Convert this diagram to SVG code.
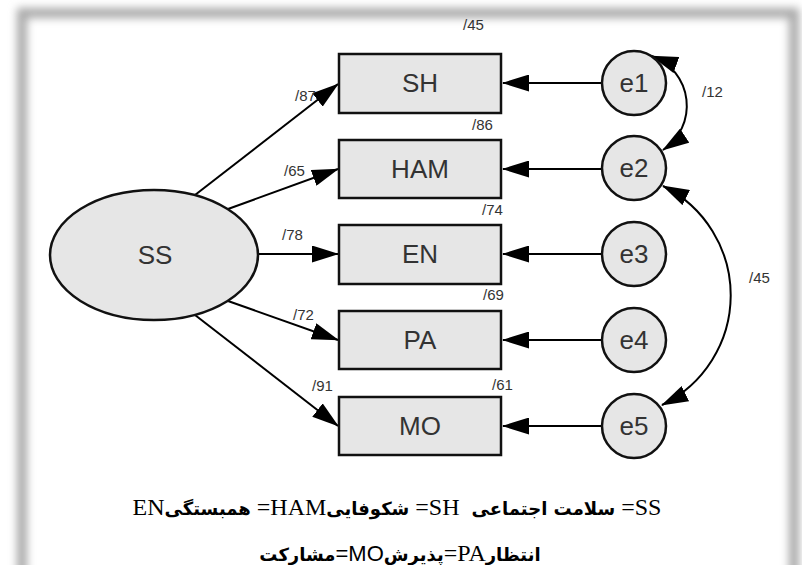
<svg xmlns="http://www.w3.org/2000/svg" width="802" height="565" viewBox="0 0 802 565">
<defs>
<filter id="blur" x="-5%" y="-5%" width="110%" height="110%"><feGaussianBlur stdDeviation="4"/></filter>
<marker id="ah" markerUnits="userSpaceOnUse" markerWidth="27" markerHeight="17" refX="26" refY="8.5" orient="auto-start-reverse" viewBox="0 0 27 17">
<path d="M0,0 L27,8.5 L0,17 z" fill="#000"/>
</marker>
</defs>
<style>
.node{fill:#e6e6e6;stroke:#111;stroke-width:2.5}
.lbl{font-family:"Liberation Sans",Arial,sans-serif;font-size:26px;fill:#333;text-anchor:middle;dominant-baseline:central}
.val{font-family:"Liberation Sans",Arial,sans-serif;font-size:15px;fill:#333}
.edge{stroke:#000;stroke-width:2;fill:none;marker-end:url(#ah)}
.cov{stroke:#000;stroke-width:2;fill:none;marker-end:url(#ah);marker-start:url(#ah)}
.cap{font-family:"Liberation Serif","DejaVu Serif",serif;font-size:24px;fill:#000;text-anchor:middle;direction:rtl;unicode-bidi:embed;white-space:pre}
.fa{font-family:"DejaVu Sans","Noto Sans",sans-serif;font-weight:bold;font-size:18px}
.ss{font-family:"Liberation Sans",Arial,sans-serif;font-size:22px}
</style>
<rect width="802" height="565" fill="#fff"/>
<rect x="22" y="13" width="772" height="620" fill="none" stroke="#a9a9a9" stroke-width="10" filter="url(#blur)"/>
<g id="connectors">
<line class="edge" x1="195" y1="195" x2="338" y2="84"/>
<line class="edge" x1="228" y1="209" x2="338" y2="169"/>
<line class="edge" x1="256" y1="254" x2="338" y2="254"/>
<line class="edge" x1="228" y1="301" x2="338" y2="340"/>
<line class="edge" x1="195" y1="315" x2="338" y2="426"/>
<line class="edge" x1="602" y1="83" x2="503" y2="83"/>
<line class="edge" x1="602" y1="169" x2="503" y2="169"/>
<line class="edge" x1="602" y1="254" x2="503" y2="254"/>
<line class="edge" x1="602" y1="340" x2="503" y2="340"/>
<line class="edge" x1="602" y1="426" x2="503" y2="426"/>
<path class="cov" d="M652,56 A53,53 0 0 1 663,150"/>
<path class="cov" d="M663,186 A122,122 0 0 1 662,405"/>
</g>
<g id="SS"><ellipse class="node" cx="154" cy="255" rx="104" ry="65"/><text class="lbl" x="155" y="255">SS</text></g>
<g id="SH"><rect class="node" x="339" y="54" width="162" height="59"/><text class="lbl" x="420" y="83">SH</text></g>
<g id="HAM"><rect class="node" x="339" y="140" width="162" height="58"/><text class="lbl" x="420" y="169">HAM</text></g>
<g id="EN"><rect class="node" x="339" y="225" width="162" height="59"/><text class="lbl" x="420" y="254">EN</text></g>
<g id="PA"><rect class="node" x="339" y="311" width="162" height="58"/><text class="lbl" x="420" y="340">PA</text></g>
<g id="MO"><rect class="node" x="339" y="397" width="162" height="58"/><text class="lbl" x="420" y="426">MO</text></g>
<g id="e1"><circle class="node" cx="634" cy="83" r="32"/><text class="lbl" x="634" y="83">e1</text></g>
<g id="e2"><circle class="node" cx="634" cy="168" r="32"/><text class="lbl" x="634" y="168">e2</text></g>
<g id="e3"><circle class="node" cx="634" cy="254" r="32"/><text class="lbl" x="634" y="254">e3</text></g>
<g id="e4"><circle class="node" cx="634" cy="340" r="32"/><text class="lbl" x="634" y="340">e4</text></g>
<g id="e5"><circle class="node" cx="634" cy="426" r="32"/><text class="lbl" x="634" y="426">e5</text></g>
<g id="labels">
<text class="val" x="463" y="30">/45</text>
<text class="val" x="295" y="101">/87</text>
<text class="val" x="472" y="130">/86</text>
<text class="val" x="284" y="176">/65</text>
<text class="val" x="482" y="215">/74</text>
<text class="val" x="282" y="240">/78</text>
<text class="val" x="483" y="300">/69</text>
<text class="val" x="293" y="320">/72</text>
<text class="val" x="312" y="391">/91</text>
<text class="val" x="492" y="390">/61</text>
<text class="val" x="702" y="97">/12</text>
<text class="val" x="749" y="283">/45</text>
</g>
<g id="caption">
<text class="cap" x="397" y="515">&#x200E;=SS <tspan class="fa">سلامت اجتماعی</tspan>  &#x200E;=SH <tspan class="fa">شکوفایی</tspan>&#x200E;=HAM <tspan class="fa">همبستگی</tspan>EN</text>
<text class="cap" x="400" y="561"><tspan class="fa">انتظار</tspan>&#x200E;=PA<tspan class="fa">پذیرش</tspan><tspan class="ss">&#x200E;=MO</tspan><tspan class="fa">مشارکت</tspan></text>
</g>
</svg>
